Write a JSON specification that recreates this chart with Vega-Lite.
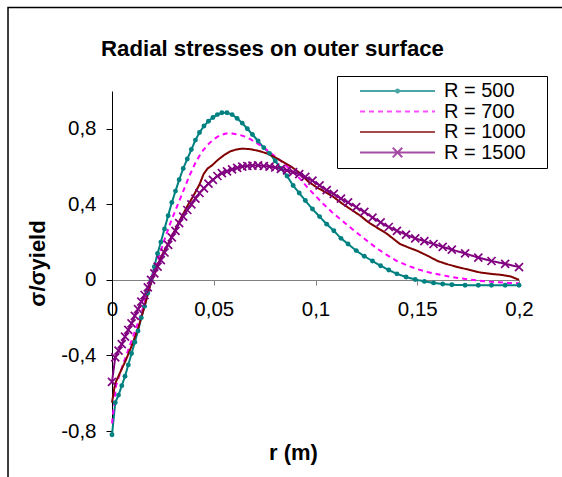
{
  "$schema": "https://vega.github.io/schema/vega-lite/v6.json",
  "autosize": "none",
  "width": 407,
  "height": 340,
  "padding": {"left": 112, "top": 91, "right": 43, "bottom": 46},
  "background": "white",
  "title": {"text": "Radial stresses on outer surface", "font": "Liberation Sans", "fontSize": 22.2, "fontWeight": "bold", "color": "black", "dx": -43, "baseline": "alphabetic", "offset": -71},
  "config": {
    "view": {"stroke": null},
    "font": "Liberation Sans",
    "legend": {"orient": "none", "legendX": 225, "legendY": -15, "title": null, "strokeColor": "black", "fillColor": "white", "padding": 5, "symbolSize": 256, "symbolStrokeWidth": 2, "labelFont": "Liberation Sans", "labelFontSize": 20, "labelColor": "black", "labelOffset": 82, "rowPadding": 0.5, "labelLimit": 300}
  },
  "data": {"values": [
    {"series":"R = 500","r":0,"sigma":-0.82},{"series":"R = 500","r":0.0016,"sigma":-0.65},{"series":"R = 500","r":0.0032,"sigma":-0.61},{"series":"R = 500","r":0.0048,"sigma":-0.56},{"series":"R = 500","r":0.0064,"sigma":-0.51},{"series":"R = 500","r":0.008,"sigma":-0.45},{"series":"R = 500","r":0.0096,"sigma":-0.39},{"series":"R = 500","r":0.0112,"sigma":-0.33},{"series":"R = 500","r":0.0128,"sigma":-0.27},{"series":"R = 500","r":0.0144,"sigma":-0.2},{"series":"R = 500","r":0.016,"sigma":-0.14},{"series":"R = 500","r":0.0176,"sigma":-0.07},{"series":"R = 500","r":0.0192,"sigma":0.0},{"series":"R = 500","r":0.0208,"sigma":0.07},{"series":"R = 500","r":0.0224,"sigma":0.14},{"series":"R = 500","r":0.024,"sigma":0.2},{"series":"R = 500","r":0.0258,"sigma":0.27},{"series":"R = 500","r":0.0276,"sigma":0.34},{"series":"R = 500","r":0.0294,"sigma":0.41},{"series":"R = 500","r":0.0312,"sigma":0.47},{"series":"R = 500","r":0.033,"sigma":0.53},{"series":"R = 500","r":0.035,"sigma":0.59},{"series":"R = 500","r":0.037,"sigma":0.64},{"series":"R = 500","r":0.039,"sigma":0.69},{"series":"R = 500","r":0.041,"sigma":0.74},{"series":"R = 500","r":0.043,"sigma":0.78},{"series":"R = 500","r":0.0452,"sigma":0.815},{"series":"R = 500","r":0.0474,"sigma":0.84},{"series":"R = 500","r":0.0496,"sigma":0.86},{"series":"R = 500","r":0.0518,"sigma":0.875},{"series":"R = 500","r":0.054,"sigma":0.885},{"series":"R = 500","r":0.0565,"sigma":0.885},{"series":"R = 500","r":0.059,"sigma":0.875},{"series":"R = 500","r":0.0615,"sigma":0.855},{"series":"R = 500","r":0.064,"sigma":0.83},{"series":"R = 500","r":0.0665,"sigma":0.8},{"series":"R = 500","r":0.069,"sigma":0.77},{"series":"R = 500","r":0.0718,"sigma":0.735},{"series":"R = 500","r":0.0746,"sigma":0.7},{"series":"R = 500","r":0.0774,"sigma":0.67},{"series":"R = 500","r":0.0802,"sigma":0.63},{"series":"R = 500","r":0.083,"sigma":0.59},{"series":"R = 500","r":0.086,"sigma":0.55},{"series":"R = 500","r":0.089,"sigma":0.5},{"series":"R = 500","r":0.092,"sigma":0.46},{"series":"R = 500","r":0.095,"sigma":0.42},{"series":"R = 500","r":0.0985,"sigma":0.375},{"series":"R = 500","r":0.102,"sigma":0.335},{"series":"R = 500","r":0.1055,"sigma":0.295},{"series":"R = 500","r":0.109,"sigma":0.26},{"series":"R = 500","r":0.1125,"sigma":0.22},{"series":"R = 500","r":0.116,"sigma":0.19},{"series":"R = 500","r":0.12,"sigma":0.155},{"series":"R = 500","r":0.124,"sigma":0.125},{"series":"R = 500","r":0.128,"sigma":0.1},{"series":"R = 500","r":0.132,"sigma":0.075},{"series":"R = 500","r":0.136,"sigma":0.052},{"series":"R = 500","r":0.14,"sigma":0.032},{"series":"R = 500","r":0.1445,"sigma":0.015},{"series":"R = 500","r":0.149,"sigma":0.002},{"series":"R = 500","r":0.1535,"sigma":-0.008},{"series":"R = 500","r":0.158,"sigma":-0.016},{"series":"R = 500","r":0.1625,"sigma":-0.022},{"series":"R = 500","r":0.167,"sigma":-0.026},{"series":"R = 500","r":0.1735,"sigma":-0.028},{"series":"R = 500","r":0.18,"sigma":-0.028},{"series":"R = 500","r":0.1865,"sigma":-0.028},{"series":"R = 500","r":0.1932,"sigma":-0.028},{"series":"R = 500","r":0.2,"sigma":-0.028},

    {"series":"R = 700","r":0,"sigma":-0.76},{"series":"R = 700","r":0.002,"sigma":-0.56},{"series":"R = 700","r":0.005,"sigma":-0.46},{"series":"R = 700","r":0.008,"sigma":-0.37},{"series":"R = 700","r":0.011,"sigma":-0.28},{"series":"R = 700","r":0.014,"sigma":-0.19},{"series":"R = 700","r":0.017,"sigma":-0.08},{"series":"R = 700","r":0.02,"sigma":0.02},{"series":"R = 700","r":0.023,"sigma":0.12},{"series":"R = 700","r":0.026,"sigma":0.22},{"series":"R = 700","r":0.029,"sigma":0.31},{"series":"R = 700","r":0.032,"sigma":0.39},{"series":"R = 700","r":0.035,"sigma":0.47},{"series":"R = 700","r":0.038,"sigma":0.55},{"series":"R = 700","r":0.041,"sigma":0.62},{"series":"R = 700","r":0.044,"sigma":0.675},{"series":"R = 700","r":0.047,"sigma":0.715},{"series":"R = 700","r":0.05,"sigma":0.745},{"series":"R = 700","r":0.053,"sigma":0.765},{"series":"R = 700","r":0.056,"sigma":0.775},{"series":"R = 700","r":0.059,"sigma":0.775},{"series":"R = 700","r":0.062,"sigma":0.77},{"series":"R = 700","r":0.065,"sigma":0.76},{"series":"R = 700","r":0.068,"sigma":0.745},{"series":"R = 700","r":0.071,"sigma":0.725},{"series":"R = 700","r":0.074,"sigma":0.705},{"series":"R = 700","r":0.077,"sigma":0.68},{"series":"R = 700","r":0.08,"sigma":0.655},{"series":"R = 700","r":0.083,"sigma":0.63},{"series":"R = 700","r":0.086,"sigma":0.6},{"series":"R = 700","r":0.089,"sigma":0.57},{"series":"R = 700","r":0.092,"sigma":0.54},{"series":"R = 700","r":0.096,"sigma":0.49},{"series":"R = 700","r":0.1,"sigma":0.445},{"series":"R = 700","r":0.104,"sigma":0.4},{"series":"R = 700","r":0.108,"sigma":0.36},{"series":"R = 700","r":0.112,"sigma":0.323},{"series":"R = 700","r":0.116,"sigma":0.287},{"series":"R = 700","r":0.12,"sigma":0.252},{"series":"R = 700","r":0.125,"sigma":0.21},{"series":"R = 700","r":0.13,"sigma":0.168},{"series":"R = 700","r":0.135,"sigma":0.132},{"series":"R = 700","r":0.14,"sigma":0.1},{"series":"R = 700","r":0.145,"sigma":0.077},{"series":"R = 700","r":0.15,"sigma":0.057},{"series":"R = 700","r":0.155,"sigma":0.042},{"series":"R = 700","r":0.16,"sigma":0.03},{"series":"R = 700","r":0.165,"sigma":0.019},{"series":"R = 700","r":0.17,"sigma":0.01},{"series":"R = 700","r":0.175,"sigma":0.003},{"series":"R = 700","r":0.18,"sigma":-0.004},{"series":"R = 700","r":0.185,"sigma":-0.009},{"series":"R = 700","r":0.19,"sigma":-0.013},{"series":"R = 700","r":0.195,"sigma":-0.016},{"series":"R = 700","r":0.2,"sigma":-0.018},

    {"series":"R = 1000","r":0,"sigma":-0.65},{"series":"R = 1000","r":0.0015,"sigma":-0.55},{"series":"R = 1000","r":0.004,"sigma":-0.49},{"series":"R = 1000","r":0.007,"sigma":-0.42},{"series":"R = 1000","r":0.01,"sigma":-0.34},{"series":"R = 1000","r":0.013,"sigma":-0.25},{"series":"R = 1000","r":0.016,"sigma":-0.14},{"series":"R = 1000","r":0.019,"sigma":-0.02},{"series":"R = 1000","r":0.022,"sigma":0.07},{"series":"R = 1000","r":0.025,"sigma":0.14},{"series":"R = 1000","r":0.028,"sigma":0.2},{"series":"R = 1000","r":0.031,"sigma":0.265},{"series":"R = 1000","r":0.034,"sigma":0.33},{"series":"R = 1000","r":0.037,"sigma":0.39},{"series":"R = 1000","r":0.04,"sigma":0.445},{"series":"R = 1000","r":0.043,"sigma":0.505},{"series":"R = 1000","r":0.045,"sigma":0.56},{"series":"R = 1000","r":0.047,"sigma":0.59},{"series":"R = 1000","r":0.049,"sigma":0.605},{"series":"R = 1000","r":0.052,"sigma":0.635},{"series":"R = 1000","r":0.055,"sigma":0.66},{"series":"R = 1000","r":0.058,"sigma":0.68},{"series":"R = 1000","r":0.061,"sigma":0.69},{"series":"R = 1000","r":0.064,"sigma":0.695},{"series":"R = 1000","r":0.068,"sigma":0.692},{"series":"R = 1000","r":0.072,"sigma":0.683},{"series":"R = 1000","r":0.076,"sigma":0.67},{"series":"R = 1000","r":0.08,"sigma":0.65},{"series":"R = 1000","r":0.084,"sigma":0.625},{"series":"R = 1000","r":0.088,"sigma":0.6},{"series":"R = 1000","r":0.0924,"sigma":0.565},{"series":"R = 1000","r":0.0965,"sigma":0.52},{"series":"R = 1000","r":0.1006,"sigma":0.49},{"series":"R = 1000","r":0.1047,"sigma":0.465},{"series":"R = 1000","r":0.1087,"sigma":0.44},{"series":"R = 1000","r":0.113,"sigma":0.405},{"series":"R = 1000","r":0.117,"sigma":0.376},{"series":"R = 1000","r":0.122,"sigma":0.34},{"series":"R = 1000","r":0.126,"sigma":0.305},{"series":"R = 1000","r":0.13,"sigma":0.278},{"series":"R = 1000","r":0.135,"sigma":0.245},{"series":"R = 1000","r":0.1415,"sigma":0.19},{"series":"R = 1000","r":0.146,"sigma":0.17},{"series":"R = 1000","r":0.15,"sigma":0.154},{"series":"R = 1000","r":0.155,"sigma":0.128},{"series":"R = 1000","r":0.16,"sigma":0.1},{"series":"R = 1000","r":0.165,"sigma":0.082},{"series":"R = 1000","r":0.171,"sigma":0.065},{"series":"R = 1000","r":0.176,"sigma":0.052},{"series":"R = 1000","r":0.181,"sigma":0.039},{"series":"R = 1000","r":0.186,"sigma":0.032},{"series":"R = 1000","r":0.191,"sigma":0.027},{"series":"R = 1000","r":0.196,"sigma":0.018},{"series":"R = 1000","r":0.2,"sigma":0.0},

    {"series":"R = 1500","r":0,"sigma":-0.54},{"series":"R = 1500","r":0.0016,"sigma":-0.41},{"series":"R = 1500","r":0.0032,"sigma":-0.375},{"series":"R = 1500","r":0.0048,"sigma":-0.34},{"series":"R = 1500","r":0.0064,"sigma":-0.3},{"series":"R = 1500","r":0.008,"sigma":-0.265},{"series":"R = 1500","r":0.0096,"sigma":-0.23},{"series":"R = 1500","r":0.0112,"sigma":-0.19},{"series":"R = 1500","r":0.0128,"sigma":-0.155},{"series":"R = 1500","r":0.0144,"sigma":-0.115},{"series":"R = 1500","r":0.016,"sigma":-0.08},{"series":"R = 1500","r":0.0176,"sigma":-0.04},{"series":"R = 1500","r":0.0192,"sigma":0.0},{"series":"R = 1500","r":0.0208,"sigma":0.035},{"series":"R = 1500","r":0.0224,"sigma":0.07},{"series":"R = 1500","r":0.024,"sigma":0.105},{"series":"R = 1500","r":0.0258,"sigma":0.145},{"series":"R = 1500","r":0.0276,"sigma":0.185},{"series":"R = 1500","r":0.0294,"sigma":0.225},{"series":"R = 1500","r":0.0312,"sigma":0.26},{"series":"R = 1500","r":0.033,"sigma":0.3},{"series":"R = 1500","r":0.035,"sigma":0.335},{"series":"R = 1500","r":0.037,"sigma":0.37},{"series":"R = 1500","r":0.039,"sigma":0.4},{"series":"R = 1500","r":0.041,"sigma":0.43},{"series":"R = 1500","r":0.043,"sigma":0.46},{"series":"R = 1500","r":0.0452,"sigma":0.485},{"series":"R = 1500","r":0.0474,"sigma":0.51},{"series":"R = 1500","r":0.0496,"sigma":0.53},{"series":"R = 1500","r":0.0518,"sigma":0.55},{"series":"R = 1500","r":0.054,"sigma":0.565},{"series":"R = 1500","r":0.0565,"sigma":0.575},{"series":"R = 1500","r":0.059,"sigma":0.585},{"series":"R = 1500","r":0.0615,"sigma":0.593},{"series":"R = 1500","r":0.064,"sigma":0.6},{"series":"R = 1500","r":0.0665,"sigma":0.603},{"series":"R = 1500","r":0.069,"sigma":0.605},{"series":"R = 1500","r":0.0718,"sigma":0.606},{"series":"R = 1500","r":0.0746,"sigma":0.603},{"series":"R = 1500","r":0.0774,"sigma":0.6},{"series":"R = 1500","r":0.0802,"sigma":0.595},{"series":"R = 1500","r":0.083,"sigma":0.588},{"series":"R = 1500","r":0.086,"sigma":0.58},{"series":"R = 1500","r":0.089,"sigma":0.57},{"series":"R = 1500","r":0.092,"sigma":0.56},{"series":"R = 1500","r":0.095,"sigma":0.545},{"series":"R = 1500","r":0.0985,"sigma":0.525},{"series":"R = 1500","r":0.102,"sigma":0.5},{"series":"R = 1500","r":0.1055,"sigma":0.475},{"series":"R = 1500","r":0.109,"sigma":0.455},{"series":"R = 1500","r":0.1125,"sigma":0.43},{"series":"R = 1500","r":0.116,"sigma":0.41},{"series":"R = 1500","r":0.12,"sigma":0.385},{"series":"R = 1500","r":0.124,"sigma":0.36},{"series":"R = 1500","r":0.128,"sigma":0.33},{"series":"R = 1500","r":0.132,"sigma":0.305},{"series":"R = 1500","r":0.136,"sigma":0.28},{"series":"R = 1500","r":0.14,"sigma":0.26},{"series":"R = 1500","r":0.1445,"sigma":0.24},{"series":"R = 1500","r":0.149,"sigma":0.22},{"series":"R = 1500","r":0.1535,"sigma":0.205},{"series":"R = 1500","r":0.158,"sigma":0.19},{"series":"R = 1500","r":0.1625,"sigma":0.175},{"series":"R = 1500","r":0.167,"sigma":0.16},{"series":"R = 1500","r":0.1735,"sigma":0.14},{"series":"R = 1500","r":0.18,"sigma":0.118},{"series":"R = 1500","r":0.1865,"sigma":0.1},{"series":"R = 1500","r":0.1932,"sigma":0.085},{"series":"R = 1500","r":0.2,"sigma":0.068}
  ]},
  "layer": [
    {
      "data": {"values": [{"frame": "chart area"}]},
      "mark": {"type": "rect", "filled": false, "color": "black", "strokeWidth": 1.5},
      "encoding": {
        "x": {"datum": -0.0511, "type": "quantitative", "scale": {"domain": [0, 0.2], "nice": false, "zero": false}},
        "x2": {"datum": 0.3},
        "y": {"datum": 1.442, "type": "quantitative", "scale": {"domain": [-0.8, 1.0], "nice": false, "zero": false}},
        "y2": {"datum": -1.5}
      }
    },
    {
      "mark": {"type": "line", "strokeWidth": 2},
      "encoding": {
        "x": {"field": "r", "type": "quantitative", "scale": {"domain": [0, 0.2], "nice": false, "zero": false},
          "axis": {"values": [0, 0.05, 0.1, 0.15, 0.2], "offset": -151, "labelExpr": "replace(replace(format(datum.value, '~g'), '.', ','), '\u2212', '-')", "domainColor": "#808080", "tickColor": "#808080", "tickSize": 5, "labelPadding": 14, "labelFlush": false, "labelOverlap": false, "labelFont": "Liberation Sans", "labelFontSize": 20.5, "labelColor": "black", "grid": false, "title": "r (m)", "titleFont": "Liberation Sans", "titleFontSize": 22, "titleFontWeight": "bold", "titleColor": "black", "titleX": 181, "titleY": 179, "titleAlign": "center", "titleBaseline": "alphabetic", "titleAngle": 0}},
        "y": {"field": "sigma", "type": "quantitative", "scale": {"domain": [-0.8, 1.0], "nice": false, "zero": false},
          "axis": {"values": [-0.8, -0.4, 0, 0.4, 0.8], "labelExpr": "replace(replace(format(datum.value, '~g'), '.', ','), '\u2212', '-')", "domainColor": "black", "tickColor": "black", "tickSize": 6, "labelPadding": 10, "labelFont": "Liberation Sans", "labelFontSize": 20.5, "labelColor": "black", "grid": false, "title": "σ/σyield", "titleFont": "Liberation Sans", "titleFontSize": 22, "titleFontWeight": "bold", "titleColor": "black", "titleX": -75, "titleY": 172, "titleAngle": 270, "titleAlign": "center", "titleBaseline": "middle"}},
        "color": {"field": "series", "type": "nominal", "scale": {"domain": ["R = 500", "R = 700", "R = 1000", "R = 1500"], "range": ["#008080", "#FF00FF", "#800000", "#800080"]}},
        "strokeDash": {"field": "series", "type": "nominal", "scale": {"domain": ["R = 500", "R = 700", "R = 1000", "R = 1500"], "range": [[1, 0], [5, 4], [1, 0], [1, 0]]}}
      }
    },
    {
      "transform": [{"filter": "datum.series === 'R = 500'"}],
      "mark": {"type": "point", "shape": "circle", "filled": true, "size": 24, "color": "#008080", "opacity": 1},
      "encoding": {
        "x": {"field": "r", "type": "quantitative"},
        "y": {"field": "sigma", "type": "quantitative"}
      }
    },
    {
      "transform": [{"filter": "datum.series === 'R = 1500'"}],
      "mark": {"type": "point", "shape": "M-1,-1L1,1M-1,1L1,-1", "filled": false, "size": 64, "color": "#800080", "strokeWidth": 1.7, "opacity": 1},
      "encoding": {
        "x": {"field": "r", "type": "quantitative"},
        "y": {"field": "sigma", "type": "quantitative"}
      }
    },
    {
      "data": {"values": []},
      "mark": {"type": "point", "filled": false, "strokeWidth": 2},
      "encoding": {
        "color": {"field": "series", "type": "nominal"},
        "shape": {"field": "series", "type": "nominal", "scale": {"domain": ["R = 500", "R = 700", "R = 1000", "R = 1500"], "range": [
          "M1,0H10.375M5.5,0a0.19,0.19 0 1,0 0.38,0a0.19,0.19 0 1,0 -0.38,0M23.25,0",
          "M1,0H10.375M23.25,0",
          "M1,0H10.375M23.25,0",
          "M1,0H10.375M5.09,-0.6L6.29,0.6M5.09,0.6L6.29,-0.6M23.25,0"
        ]}}
      }
    }
  ]
}
